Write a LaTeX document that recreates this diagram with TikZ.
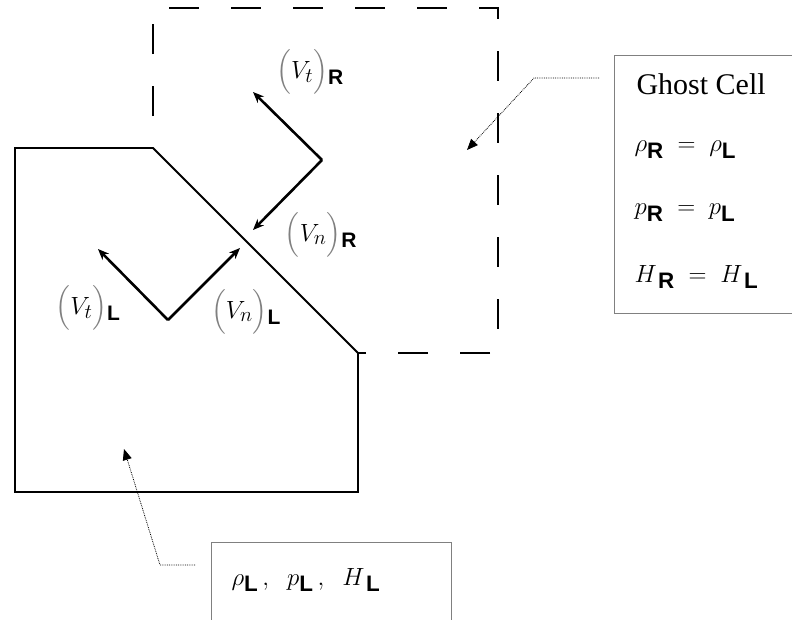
\documentclass[tikz,border=0pt]{standalone}
\usepackage{amsmath}
\usepackage{fontspec}
\setmainfont{Liberation Serif}
\setsansfont{Liberation Sans}
\usetikzlibrary{arrows.meta,positioning}

\newcommand{\sR}{\textsf{\bfseries R}}
\newcommand{\sL}{\textsf{\bfseries L}}
\newcommand{\vel}[2]{{\color{gray}\Bigl(}V_{#1}{\color{gray}\Bigr)}_{#2}}

\begin{document}
\begin{tikzpicture}[x=1pt, y=-1pt,
    wall/.style={line width=1.8pt, line join=miter},
    ghost/.style={line width=1.8pt, dash pattern=on 30pt off 32pt, dash phase=30pt},
    vec/.style={-{Stealth[length=11pt, width=9pt]}, line width=2.6pt},
    infobox/.style={draw=gray, line width=0.8pt, anchor=north west},
    leader/.style={densely dotted, line width=0.8pt, -{Triangle[length=11pt, width=9pt]}},
    lbl/.style={font=\fontsize{30}{34}\selectfont},
    eq/.style={font=\fontsize{32}{36}\selectfont, anchor=west}]

    \useasboundingbox (0,0) rectangle (792,619);

    % Fluid cell
    \draw[wall] (15,148) -- (153,148) -- (358,353) -- (358,492) -- (15,492) -- cycle;

    % Ghost cell
    \draw[ghost] (153,148) -- (153,8) -- (498,8) -- (498,353) -- (358,353);

    % Velocity components
    \coordinate (cR) at (322,160);
    \coordinate (tR) at (253,92);
    \coordinate (nR) at (253,230);
    \coordinate (cL) at (168,320);
    \coordinate (tL) at (98,249);
    \coordinate (nL) at (240,248);
    \draw[vec] (cR) -- (tR);
    \draw[vec] (cR) -- (nR);
    \draw[vec] (cL) -- (tL);
    \draw[vec] (cL) -- (nL);

    \node[lbl] (vtR) at (310,72) {$\vel{t}{\sR}$};
    \node[lbl] (vnR) at (321,235) {$\vel{n}{\sR}$};
    \node[lbl] (vtL) at (88,308) {$\vel{t}{\sL}$};
    \node[lbl] (vnL) at (246,312) {$\vel{n}{\sL}$};

    % Boxes
    \node[infobox, minimum width=178, minimum height=258] (ghostbox) at (614,55) {};
    \node[lbl, anchor=base west] (ghosttitle) at (633,94) {Ghost Cell};
    \node[eq] (rhoeq) at (631,150) {$\rho_{\sR} \;=\; \rho_{\sL}$};
    \node[eq] (peq) at (631,213) {$p_{\sR} \;=\; p_{\sL}$};
    \node[eq] (heq) at (631,277) {$H_{\,\sR} \;=\; H_{\,\sL}$};

    \node[infobox, minimum width=240, minimum height=80] (fluidbox) at (211,542) {};
    \node[eq] (fluideq) at (228,580) {$\rho_{\sL}\,,\;\; p_{\sL}\,,\;\; H_{\,\sL}$};

    % Leaders
    \coordinate (gs) at (599,78);
    \coordinate (gk) at (534,78);
    \coordinate (gt) at (467,150);
    \draw[leader] (gs) -- (gk) -- (gt);
    \coordinate (fs) at (195,565);
    \coordinate (fk) at (160,565);
    \coordinate (ft) at (124,449);
    \draw[leader] (fs) -- (fk) -- (ft);
\end{tikzpicture}
\end{document}
